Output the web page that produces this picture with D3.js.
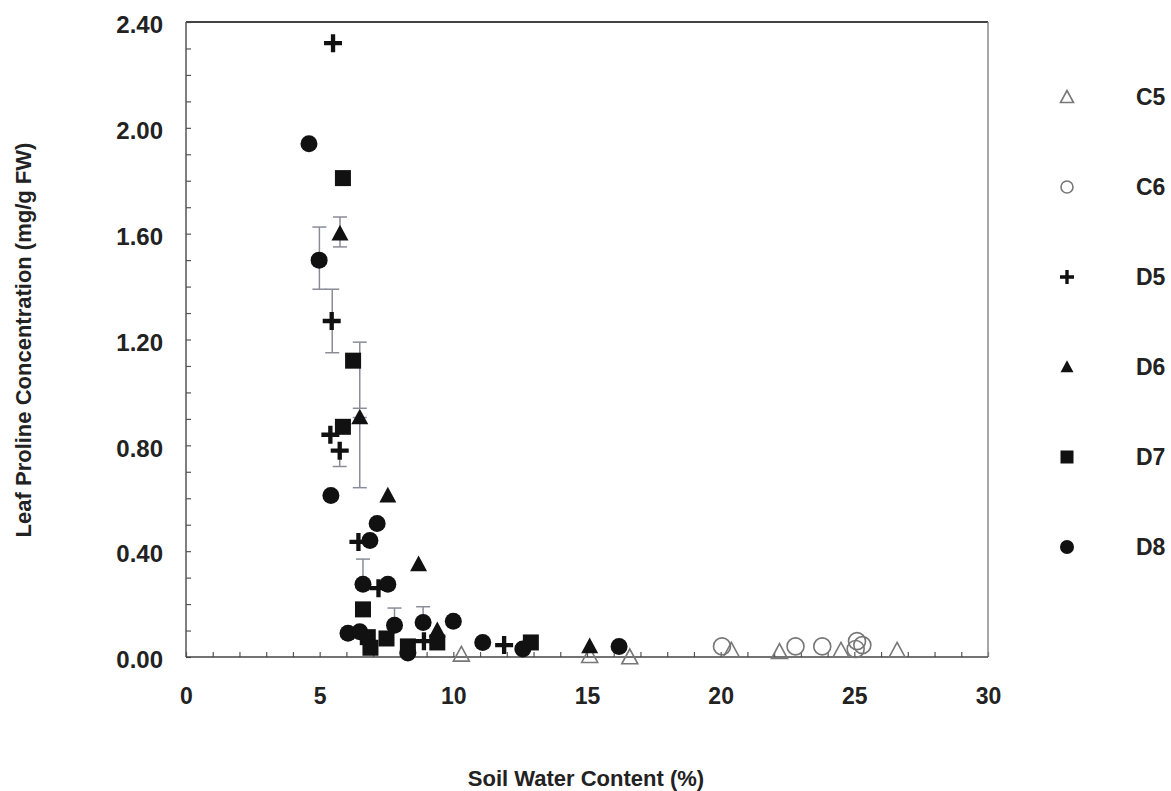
<!DOCTYPE html>
<html><head><meta charset="utf-8">
<script src="https://cdn.jsdelivr.net/npm/d3@7"></script>
<style>
html,body{margin:0;padding:0;background:#fff;}
svg{display:block;font-family:"Liberation Sans",Arial,sans-serif;}
</style></head>
<body>
<svg id="chart" width="1171" height="791"></svg>
<script>
// ---- data ----
const seriesNames = ["C5","C6","D5","D6","D7","D8"];
const C5 = [[10.3,0.01],[15.1,0.005],[16.6,0.0],[20.4,0.025],[22.2,0.02],[24.5,0.025],[26.6,0.025]];
const C6 = [[20.05,0.04],[22.8,0.04],[23.8,0.04],[25.1,0.06],[25.3,0.045],[25.05,0.03]];
const D5 = [[5.5,2.32],[5.45,1.27],[5.4,0.84],[5.75,0.78],[6.45,0.435],[7.2,0.26],[8.9,0.06],[11.9,0.045]];
const D6 = [[5.76,1.60],[6.5,0.905],[7.55,0.61],[8.7,0.35],[9.4,0.10],[15.1,0.04]];
const D7 = [[5.87,1.81],[6.25,1.12],[5.87,0.87],[6.62,0.18],[6.8,0.075],[6.9,0.035],[7.5,0.07],[8.3,0.04],[9.4,0.055],[12.9,0.055]];
const D8 = [[4.6,1.94],[4.98,1.50],[5.42,0.61],[7.15,0.505],[6.88,0.44],[6.62,0.275],[7.55,0.275],[7.8,0.12],[8.87,0.13],[10.0,0.135],[6.06,0.09],[6.5,0.095],[8.3,0.015],[11.1,0.055],[12.6,0.03],[16.2,0.04]];
// error bars: [x, low, high]
const errorBars = [[5.47,1.15,1.39],[4.99,1.39,1.625],[5.76,1.55,1.663],[6.5,0.94,1.19],[6.5,0.64,0.905],[5.75,0.72,0.78],[6.62,0.275,0.37],[7.8,0.12,0.185],[8.87,0.13,0.19]];
const xTicks = [0,5,10,15,20,25,30];
const yTicks = [0,0.4,0.8,1.2,1.6,2.0,2.4];
const xTitle = "Soil Water Content (%)";
const yTitle = "Leaf Proline Concentration (mg/g FW)";

// ---- layout ----
const svg = d3.select("#chart");
const L = 186, R = 988, T = 22, B = 657;
const x = d3.scaleLinear().domain([0,30]).range([L,R]);
const y = d3.scaleLinear().domain([0,2.4]).range([B,T]);
const txt = "#222";

// minor ticks (inward)
const xMinor = d3.range(0,31,1);
const yMinor = d3.range(0,25,1).map(d=>d/10);
svg.append("g").attr("transform",`translate(0,${B})`)
  .call(d3.axisTop(x).tickValues(xMinor).tickSize(5).tickFormat(""))
  .call(g=>g.select(".domain").remove())
  .call(g=>g.selectAll("line").attr("stroke","#555").attr("stroke-width",1.2));
svg.append("g").attr("transform",`translate(${L},0)`)
  .call(d3.axisRight(y).tickValues(yMinor).tickSize(5).tickFormat(""))
  .call(g=>g.select(".domain").remove())
  .call(g=>g.selectAll("line").attr("stroke","#555").attr("stroke-width",1.2));

// frame
svg.append("line").attr("x1",L).attr("x2",R).attr("y1",T).attr("y2",T).attr("stroke","#444").attr("stroke-width",2);
svg.append("line").attr("x1",R).attr("x2",R).attr("y1",T).attr("y2",B).attr("stroke","#888").attr("stroke-width",1.5);
svg.append("line").attr("x1",L).attr("x2",L).attr("y1",T).attr("y2",B).attr("stroke","#555").attr("stroke-width",1.5);
svg.append("line").attr("x1",L).attr("x2",R).attr("y1",B).attr("y2",B).attr("stroke","#444").attr("stroke-width",1.5);

// tick labels
const xAx = svg.append("g").attr("transform",`translate(0,${B})`)
  .call(d3.axisBottom(x).tickValues(xTicks).tickSize(0).tickPadding(31).tickFormat(d3.format("d")));
xAx.select(".domain").remove();
xAx.selectAll("text").attr("font-size",23).attr("font-weight","bold").attr("fill",txt)
  .attr("font-family","Liberation Sans, Arial, sans-serif");
const yAx = svg.append("g").attr("transform",`translate(${L},0)`)
  .call(d3.axisLeft(y).tickValues(yTicks).tickSize(0).tickPadding(23).tickFormat(d3.format(".2f")));
yAx.select(".domain").remove();
yAx.selectAll("text").attr("font-size",24).attr("font-weight","bold").attr("fill",txt).attr("dy","0.45em")
  .attr("font-family","Liberation Sans, Arial, sans-serif");

// axis titles
svg.append("text").attr("x",586).attr("y",786).attr("text-anchor","middle")
  .attr("font-size",22).attr("font-weight","bold").attr("fill",txt).text(xTitle);
svg.append("text").attr("transform","translate(31,340) rotate(-90)").attr("text-anchor","middle")
  .attr("font-size",22).attr("font-weight","bold").attr("fill",txt).text(yTitle);

// error bars
const eb = svg.append("g").attr("stroke","#8a8c98").attr("stroke-width",1.5).attr("fill","none");
errorBars.forEach(([xv,lo,hi])=>{
  eb.append("line").attr("x1",x(xv)).attr("x2",x(xv)).attr("y1",y(lo)).attr("y2",y(hi));
  eb.append("line").attr("x1",x(xv)-7).attr("x2",x(xv)+7).attr("y1",y(lo)).attr("y2",y(lo));
  eb.append("line").attr("x1",x(xv)-7).attr("x2",x(xv)+7).attr("y1",y(hi)).attr("y2",y(hi));
});

// marker drawing
function marker(g, type, cx, cy, s){
  const h = s/2;
  if(type==="C5"){
    g.append("path").attr("d",`M${cx},${cy-h}L${cx+h},${cy+h*0.85}L${cx-h},${cy+h*0.85}Z`)
      .attr("fill","none").attr("stroke","#777").attr("stroke-width",1.6);
  } else if(type==="C6"){
    g.append("circle").attr("cx",cx).attr("cy",cy).attr("r",h).attr("fill","none").attr("stroke","#777").attr("stroke-width",1.6);
  } else if(type==="D5"){
    const w = s*0.24;
    g.append("path").attr("d",`M${cx-h},${cy}L${cx+h},${cy}M${cx},${cy-h}L${cx},${cy+h}`)
      .attr("stroke","#111").attr("stroke-width",w).attr("fill","none");
  } else if(type==="D6"){
    g.append("path").attr("d",`M${cx},${cy-h*1.05}L${cx+h},${cy+h*0.8}L${cx-h},${cy+h*0.8}Z`).attr("fill","#111");
  } else if(type==="D7"){
    g.append("rect").attr("x",cx-h).attr("y",cy-h).attr("width",s).attr("height",s).attr("fill","#111");
  } else if(type==="D8"){
    g.append("circle").attr("cx",cx).attr("cy",cy).attr("r",h).attr("fill","#111");
  }
}
const dataMap = {C5, C6, D5, D6, D7, D8};
const sizes = {C5:16, C6:17, D5:18, D6:17, D7:16, D8:17};
const order = ["C5","C6","D8","D7","D6","D5"];
const pts = svg.append("g");
order.forEach(name=>{
  dataMap[name].forEach(([xv,yv])=>marker(pts, name, x(xv), y(yv), sizes[name]));
});

// legend
const lg = svg.append("g");
const legSizes = {C5:13, C6:12, D5:14, D6:13, D7:13, D8:14};
seriesNames.forEach((name,i)=>{
  const ly = 97 + i*90;
  marker(lg, name, 1067, ly, legSizes[name]);
  lg.append("text").attr("x",1136).attr("y",ly).attr("dy","0.36em")
    .attr("font-size",23).attr("font-weight","bold").attr("fill",txt).text(name);
});
</script>
</body></html>
